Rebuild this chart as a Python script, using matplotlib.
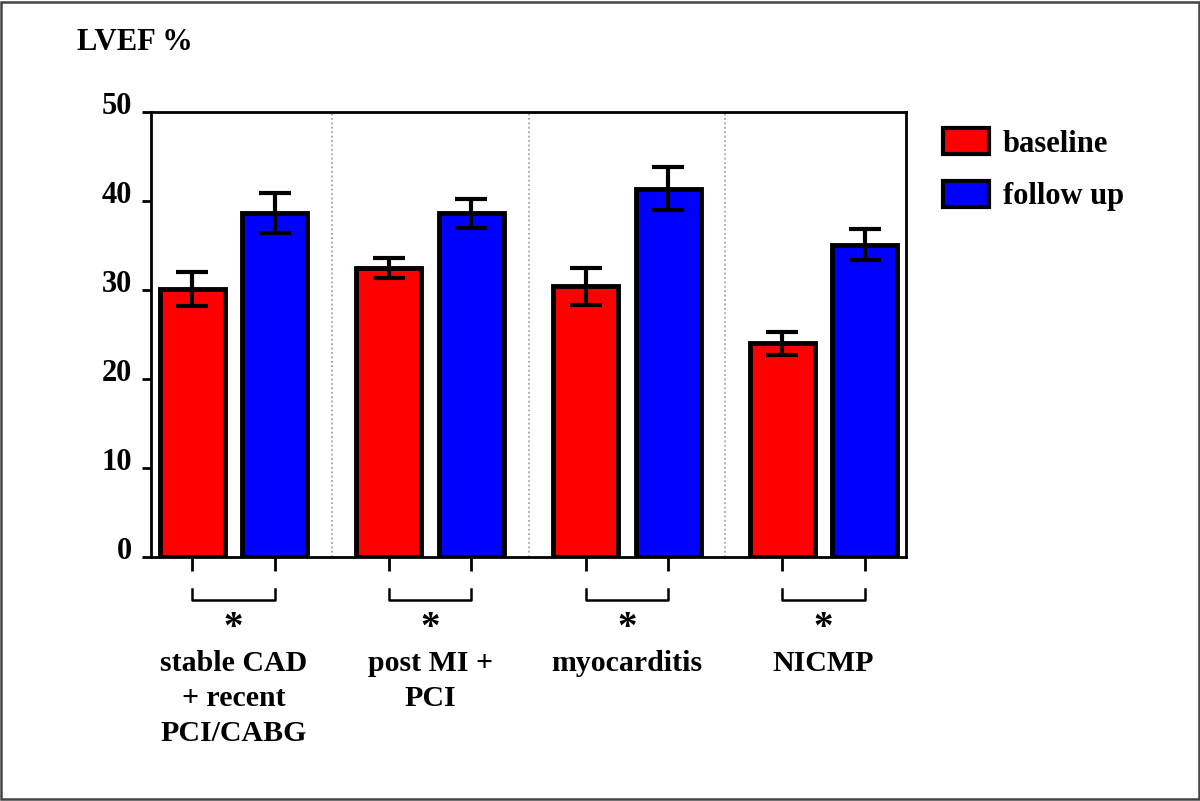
import matplotlib
matplotlib.use('Agg')
import matplotlib.pyplot as plt
import matplotlib.transforms as mtransforms
from matplotlib.patches import Patch, Rectangle
import numpy as np

plt.rcParams['font.family'] = ['Liberation Serif', 'DejaVu Serif']
plt.rcParams['font.weight'] = 'bold'

# data
groups = ['stable CAD\n+ recent\nPCI/CABG', 'post MI +\nPCI', 'myocarditis', 'NICMP']
baseline = [30.1, 32.5, 30.4, 24.0]
baseline_err = [1.9, 1.15, 2.1, 1.25]
follow_up = [38.7, 38.6, 41.4, 35.1]
follow_up_err = [2.25, 1.6, 2.4, 1.75]
series_names = ['baseline', 'follow up']
yticks = [0, 10, 20, 30, 40, 50]

red = '#ff0000'
blue = '#0000ff'
fs = 21.5

fig = plt.figure(figsize=(12, 8.01), dpi=100)
ax = fig.add_axes([151 / 1200, 1 - 557 / 801, 755 / 1200, 445 / 801])

x = np.arange(len(groups))
off = 0.21
w = 0.33
ax.bar(x - off, baseline, w, color=red, edgecolor='black', linewidth=3.5, zorder=2)
ax.bar(x + off, follow_up, w, color=blue, edgecolor='black', linewidth=3.5, zorder=2)
ax.errorbar(x - off, baseline, yerr=baseline_err, fmt='none', ecolor='black',
            elinewidth=3, capsize=11.5, capthick=3, zorder=3)
ax.errorbar(x + off, follow_up, yerr=follow_up_err, fmt='none', ecolor='black',
            elinewidth=3, capsize=11.5, capthick=3, zorder=3)

# dotted dividers between groups
for d in x[:-1] + 0.5:
    ax.axvline(d, color='#999999', linestyle=':', linewidth=1.2, zorder=1)

ax.set_xlim(-0.42, 3.42)
ax.set_ylim(0, 50)
ax.set_yticks(yticks)
ax.set_yticklabels([str(t) for t in yticks], fontsize=22, fontweight='bold')
ax.set_xticks(np.concatenate([x - off, x + off]))
ax.set_xticklabels([])
ax.tick_params(axis='y', direction='out', length=6.5, width=2, pad=7)
ax.tick_params(axis='x', direction='out', length=10, width=2)
for s in ax.spines.values():
    s.set_linewidth(2)

# raise y tick labels a bit
shift = mtransforms.ScaledTranslation(0, 0.09, fig.dpi_scale_trans)
for lab in ax.get_yticklabels():
    lab.set_transform(lab.get_transform() + shift)

# brackets, asterisks and group labels below the axis
trans = mtransforms.blended_transform_factory(ax.transData, ax.transAxes)
y_br = -43 / 445
y_leg = -32 / 445
for i, g in enumerate(groups):
    ax.plot([i - off, i - off, i + off, i + off], [y_leg, y_br, y_br, y_leg],
            color='black', linewidth=1.8, transform=trans, clip_on=False)
    ax.text(i, -53 / 445, '*', transform=trans, ha='center', va='top',
            fontsize=28, fontweight='bold')
    ax.text(i, -93 / 445, g, transform=trans, ha='center', va='top',
            fontsize=fs, fontweight='bold', linespacing=1.38)

fig.text(77 / 1200, 1 - 43 / 801, 'LVEF %', ha='left', va='center',
         fontsize=22, fontweight='bold')

handles = [Patch(facecolor=red, edgecolor='black', linewidth=3),
           Patch(facecolor=blue, edgecolor='black', linewidth=3)]
fig.legend(handles, series_names, loc='upper left',
           bbox_to_anchor=(943 / 1200, 1 - 128 / 801), frameon=False,
           prop={'size': 22, 'weight': 'bold'}, handlelength=1.5,
           handleheight=0.95, handletextpad=0.45, labelspacing=0.72,
           borderpad=0, borderaxespad=0)

# outer frame
fig.patches.append(Rectangle((0.001, 0.002), 0.998, 0.995, transform=fig.transFigure,
                             fill=False, edgecolor='#444444', linewidth=1.8))

fig.savefig('out.png', dpi=100)
